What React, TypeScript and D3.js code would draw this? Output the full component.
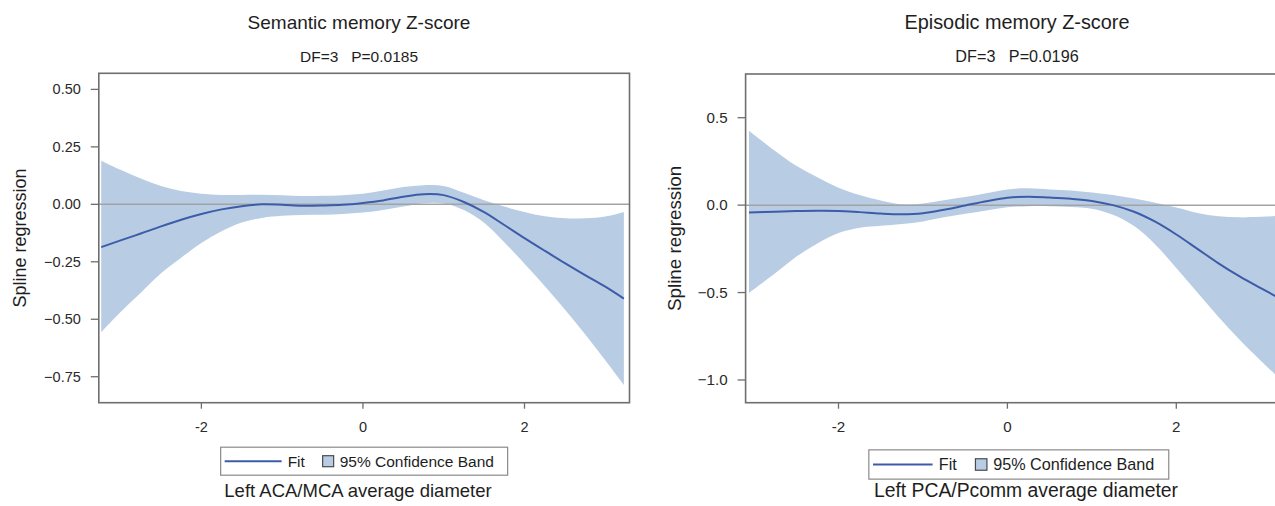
import * as d3 from 'd3';

// Semantic memory panel (left)
const semX = [-3.24, -3.0, -2.75, -2.5, -2.25, -2.0, -1.75, -1.5, -1.25, -1.0, -0.75, -0.5, -0.25, 0, 0.25, 0.5, 0.75, 1.0, 1.25, 1.5, 1.75, 2.0, 2.25, 2.5, 2.75, 3.0, 3.23];
const semFit = [-0.186, -0.157, -0.127, -0.096, -0.067, -0.042, -0.022, -0.008, 0.0, -0.002, -0.006, -0.005, -0.002, 0.006, 0.017, 0.033, 0.044, 0.04, 0.01, -0.034, -0.09, -0.147, -0.202, -0.256, -0.308, -0.358, -0.41];
const semUpper = [0.19, 0.15, 0.112, 0.08, 0.058, 0.046, 0.041, 0.041, 0.042, 0.04, 0.036, 0.037, 0.04, 0.046, 0.06, 0.075, 0.083, 0.08, 0.05, 0.018, -0.01, -0.033, -0.052, -0.061, -0.061, -0.053, -0.033];
const semLower = [-0.556, -0.468, -0.385, -0.3, -0.232, -0.168, -0.117, -0.079, -0.059, -0.05, -0.046, -0.045, -0.042, -0.036, -0.025, -0.01, 0.005, 0.004, -0.025, -0.08, -0.165, -0.258, -0.355, -0.458, -0.565, -0.678, -0.785];
const semYTicks = [-0.75, -0.5, -0.25, 0, 0.25, 0.5];

// Episodic memory panel (right)
const epiX = [-3.06, -2.75, -2.5, -2.25, -2.0, -1.75, -1.5, -1.25, -1.0, -0.75, -0.5, -0.25, 0, 0.25, 0.5, 0.75, 1.0, 1.25, 1.5, 1.75, 2.0, 2.25, 2.5, 2.75, 3.0, 3.33];
const epiFit = [-0.042, -0.038, -0.034, -0.032, -0.033, -0.04, -0.048, -0.052, -0.046, -0.026, -0.002, 0.022, 0.042, 0.048, 0.043, 0.036, 0.024, 0.0, -0.038, -0.095, -0.168, -0.25, -0.333, -0.408, -0.475, -0.56];
const epiUpper = [0.425, 0.31, 0.225, 0.16, 0.1, 0.058, 0.027, 0.005, 0.01, 0.028, 0.046, 0.068, 0.09, 0.097, 0.09, 0.083, 0.072, 0.058, 0.038, 0.014, -0.014, -0.045, -0.064, -0.07, -0.067, -0.058];
const epiLower = [-0.502, -0.39, -0.295, -0.22, -0.16, -0.13, -0.118, -0.108, -0.093, -0.07, -0.05, -0.03, -0.012, -0.006, -0.006, -0.01, -0.02, -0.055, -0.12, -0.225, -0.36, -0.5, -0.64, -0.77, -0.89, -1.04];
const epiYTicks = [-1.0, -0.5, 0, 0.5];

const xTicks = [-2, 0, 2];

const BAND = '#b8cce4';
const LINE = '#3d5ca8';
const FRAME = '#6e6e6e';
const TEXT = '#1e1e1e';
const FONT = 'Liberation Sans, Arial, sans-serif';

interface PanelProps {
  title: string;
  stats: string;
  xLabel: string;
  xs: number[];
  fit: number[];
  upper: number[];
  lower: number[];
  yTicks: number[];
  yFormat: string;
  xDomain: [number, number];
  yDomain: [number, number];
  box: { x0: number; x1: number; y0: number; y1: number };
  titleCx: number;
  labelCx: number;
  yLabelX: number;
  fs: number;
}

function Panel(p: PanelProps) {
  const x = d3.scaleLinear().domain(p.xDomain).range([p.box.x0, p.box.x1]);
  const y = d3.scaleLinear().domain(p.yDomain).range([p.box.y1, p.box.y0]);
  const pts = p.xs.map((v, i) => ({ x: v, f: p.fit[i], lo: p.lower[i], hi: p.upper[i] }));
  const curve = d3.curveCatmullRom.alpha(0.5);
  const area = d3
    .area<(typeof pts)[number]>()
    .x((d) => x(d.x))
    .y0((d) => y(d.lo))
    .y1((d) => y(d.hi))
    .curve(curve);
  const line = d3
    .line<(typeof pts)[number]>()
    .x((d) => x(d.x))
    .y((d) => y(d.f))
    .curve(curve);
  const fmt = d3.format(p.yFormat);
  const { x0, x1, y0, y1 } = p.box;
  const cx = (x0 + x1) / 2;
  const yMid = (y0 + y1) / 2;
  const lgW = 287 * p.fs;
  const lgH = 28 * p.fs;
  const lgX = cx - lgW / 2;
  const lgY = y1 + 44.5 * (p.fs > 1 ? 1.06 : 1);
  const lfs = 15.5 * p.fs;

  return (
    <g fontFamily={FONT}>
      <text x={p.titleCx} y={29} textAnchor="middle" fontSize={19 * p.fs} fill={TEXT}>
        {p.title}
      </text>
      <text x={p.titleCx} y={61.5} textAnchor="middle" fontSize={15.5 * p.fs} fill={TEXT} style={{ whiteSpace: 'pre' }}>
        {p.stats}
      </text>

      <path d={area(pts) ?? ''} fill={BAND} />
      <line x1={x0} x2={x1} y1={y(0)} y2={y(0)} stroke="#a3a3a3" strokeWidth={1.5} />
      <path d={line(pts) ?? ''} fill="none" stroke={LINE} strokeWidth={2} />
      <rect x={x0} y={y0} width={x1 - x0} height={y1 - y0} fill="none" stroke={FRAME} strokeWidth={1.6} />

      {p.yTicks.map((t) => (
        <g key={`y${t}`}>
          <line x1={x0 - 8} x2={x0} y1={y(t)} y2={y(t)} stroke={FRAME} strokeWidth={1.3} />
          <text x={x0 - 18} y={y(t)} dy="0.35em" textAnchor="end" fontSize={14.5 * p.fs} fill="#2a2a2a">
            {fmt(t)}
          </text>
        </g>
      ))}
      {xTicks.map((t) => (
        <g key={`x${t}`}>
          <line x1={x(t)} x2={x(t)} y1={y1} y2={y1 + 6} stroke={FRAME} strokeWidth={1.3} />
          <text x={x(t)} y={y1 + 29.5} textAnchor="middle" fontSize={14.5 * p.fs} fill="#2a2a2a">
            {t}
          </text>
        </g>
      ))}

      <text
        transform={`translate(${p.yLabelX},${yMid}) rotate(-90)`}
        textAnchor="middle"
        fontSize={18 * p.fs}
        fill={TEXT}
      >
        Spline regression
      </text>

      <g>
        <rect x={lgX} y={lgY} width={lgW} height={lgH} fill="#fff" stroke="#8a8a8a" strokeWidth={1.2} />
        <line x1={lgX + 4 * p.fs} x2={lgX + 61 * p.fs} y1={lgY + lgH / 2} y2={lgY + lgH / 2} stroke={LINE} strokeWidth={2} />
        <text x={lgX + 67 * p.fs} y={lgY + lgH / 2} dy="0.35em" fontSize={lfs} fill={TEXT}>
          Fit
        </text>
        <rect x={lgX + 102 * p.fs} y={lgY + lgH / 2 - 5.5 * p.fs} width={11 * p.fs} height={11 * p.fs} fill={BAND} stroke="#4a4a4a" strokeWidth={1.2} />
        <text x={lgX + 119 * p.fs} y={lgY + lgH / 2} dy="0.35em" fontSize={lfs} fill={TEXT}>
          95% Confidence Band
        </text>
      </g>

      <text x={p.labelCx} y={y1 + 94} textAnchor="middle" fontSize={18.5 * p.fs} fill={TEXT}>
        {p.xLabel}
      </text>
    </g>
  );
}

export default function App() {
  return (
    <svg
      width={1275}
      height={506}
      style={{ position: 'absolute', left: 0, top: 0, background: '#fff' }}
    >
      <rect width={1275} height={506} fill="#fff" />
      <Panel
        title="Semantic memory Z-score"
        stats={'DF=3   P=0.0185'}
        xLabel="Left ACA/MCA average diameter"
        xs={semX}
        fit={semFit}
        upper={semUpper}
        lower={semLower}
        yTicks={semYTicks}
        yFormat=".2f"
        xDomain={[-3.27, 3.3]}
        yDomain={[-0.863, 0.57]}
        box={{ x0: 98.8, x1: 629.5, y0: 73.3, y1: 402.7 }}
        titleCx={359}
        labelCx={358}
        yLabelX={25.5}
        fs={1}
      />
      <Panel
        title="Episodic memory Z-score"
        stats={'DF=3   P=0.0196'}
        xLabel="Left PCA/Pcomm average diameter"
        xs={epiX}
        fit={epiFit}
        upper={epiUpper}
        lower={epiLower}
        yTicks={epiYTicks}
        yFormat=".1f"
        xDomain={[-3.1, 3.37]}
        yDomain={[-1.13, 0.75]}
        box={{ x0: 745.6, x1: 1292, y0: 74, y1: 402.7 }}
        titleCx={1017}
        labelCx={1026}
        yLabelX={681}
        fs={1.045}
      />
    </svg>
  );
}
